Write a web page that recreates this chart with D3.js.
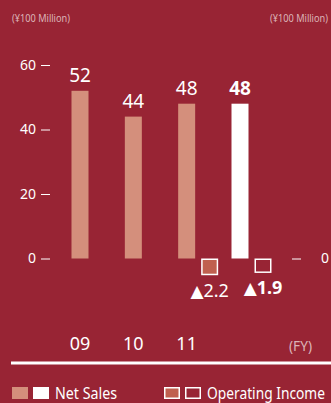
<!DOCTYPE html>
<html>
<head>
<meta charset="utf-8">
<script src="https://cdn.jsdelivr.net/npm/d3@7"></script>
<style>
body { margin: 0; background: #982434; }
svg { display: block; font-family: "Noto Sans", sans-serif; }
</style>
</head>
<body>
<div class="chart"></div>
<script>
var years = ["09", "10", "11", "12"];
var yearLabels = ["09", "10", "11", ""];
var netSales = [52, 44, 48, 48];
var opIncome = [null, null, -2.2, -1.9];
var salesTicks = [0, 20, 40, 60];
var opTicks = [0];

var width = 331,
    height = 403,
    barW = 17,
    latest = years.length - 1;

var bg = "#982434",
    salesColor = "#d48f7c",
    opColor = "#c0604f",
    softText = "#dcb4b8";

var svg = d3.select(".chart").append("svg")
    .attr("width", width)
    .attr("height", height);

var x = d3.scalePoint()
    .domain(years)
    .range([80, 240]);

var y = d3.scaleLinear()
    .domain([0, 60])
    .range([258.5, 65]);

// operating income sits on the right axis, different scale
var yOp = d3.scaleLinear()
    .domain([0, -2.5])
    .range([258.5, 277.5]);

// condensed looking text: squeeze to the measured width
function narrow(sel, size, len) {
    sel.style("font-size", size + "px")
        .attr("textLength", len)
        .attr("lengthAdjust", "spacingAndGlyphs");
}

// units
svg.append("text")
    .attr("x", 12).attr("y", 22)
    .style("fill", softText)
    .text("(¥100 Million)")
    .call(narrow, 11, 58);

svg.append("text")
    .attr("x", 270).attr("y", 22)
    .style("fill", softText)
    .text("(¥100 Million)")
    .call(narrow, 11, 58);

// axes
var left = svg.append("g")
    .attr("transform", "translate(50,0)")
    .call(d3.axisLeft(y).tickValues(salesTicks).tickSize(9).tickPadding(5));

var right = svg.append("g")
    .attr("transform", "translate(292,0)")
    .call(d3.axisRight(yOp).tickValues(opTicks).tickFormat(d3.format("d"))
        .tickSize(9).tickPadding(20));

[left, right].forEach(function(g) {
    g.select(".domain").remove();
    g.selectAll(".tick line").attr("stroke", "#fff");
    g.selectAll(".tick text")
        .attr("fill", "#fff")
        .style("font-family", "'Noto Sans', sans-serif")
        .style("font-size", "14px");
});

// net sales bars
svg.selectAll(".sales")
    .data(netSales)
    .enter().append("rect")
    .attr("class", "sales")
    .attr("x", function(d, i) { return x(years[i]) - barW / 2; })
    .attr("y", function(d) { return y(d); })
    .attr("width", barW)
    .attr("height", function(d) { return y(0) - y(d); })
    .attr("fill", function(d, i) { return i == latest ? "#fff" : salesColor; });

svg.selectAll(".salesLabel")
    .data(netSales)
    .enter().append("text")
    .attr("class", "salesLabel")
    .attr("x", function(d, i) { return x(years[i]); })
    .attr("y", function(d) { return y(d) - 9; })
    .attr("text-anchor", "middle")
    .style("font-size", "19px")
    .style("font-weight", function(d, i) { return i == latest ? "bold" : "normal"; })
    .style("fill", "#fff")
    .text(function(d) { return d; });

// operating income (negative) boxes
var ops = opIncome.map(function(v, i) { return {v: v, i: i}; })
    .filter(function(d) { return d.v != null; });

svg.selectAll(".op")
    .data(ops)
    .enter().append("rect")
    .attr("class", "op")
    .attr("x", function(d) { return x(years[d.i]) + 23 - barW / 2 + 0.75; })
    .attr("y", function(d) { return yOp(0) + 0.75; })
    .attr("width", barW - 1.5)
    .attr("height", function(d) { return yOp(d.v) - yOp(0) - 1.5; })
    .attr("fill", function(d) { return d.i == latest ? bg : opColor; })
    .attr("stroke", "#fff")
    .attr("stroke-width", 1.5);

var opLabel = svg.selectAll(".opLabel")
    .data(ops)
    .enter().append("text")
    .attr("class", "opLabel")
    .attr("x", function(d) { return x(years[d.i]) + 23; })
    .attr("y", function(d) { return yOp(d.v) + 21.5; })
    .attr("text-anchor", "middle")
    .style("font-size", "18px")
    .style("font-weight", function(d) { return d.i == latest ? "bold" : "normal"; })
    .style("fill", "#fff");

// ▲ marks a loss
opLabel.append("tspan")
    .style("font-family", "'DejaVu Sans', sans-serif")
    .style("font-size", "17px")
    .text(function(d) { return d.v < 0 ? "▲" : ""; });
opLabel.append("tspan")
    .text(function(d) { return Math.abs(d.v); });

// year labels
svg.selectAll(".year")
    .data(yearLabels)
    .enter().append("text")
    .attr("class", "year")
    .attr("x", function(d, i) { return x(years[i]); })
    .attr("y", 350)
    .attr("text-anchor", "middle")
    .style("font-size", "18px")
    .style("fill", "#fff")
    .text(function(d) { return d; });

svg.append("text")
    .attr("x", 289).attr("y", 351)
    .style("fill", softText)
    .text("(FY)")
    .call(narrow, 14, 23);

svg.append("rect")
    .attr("x", 11).attr("y", 361.5)
    .attr("width", width - 11).attr("height", 3)
    .attr("fill", "#fff");

// legend
var legend = svg.append("g").attr("transform", "translate(0,387)");

legend.append("rect").attr("x", 12).attr("width", 16).attr("height", 12).attr("fill", salesColor);
legend.append("rect").attr("x", 33).attr("width", 16).attr("height", 12).attr("fill", "#fff");
legend.append("text").attr("x", 55).attr("y", 12)
    .style("fill", "#fff")
    .text("Net Sales")
    .call(narrow, 16, 62);

legend.append("rect").attr("x", 164.75).attr("y", 0.75).attr("width", 14.5).attr("height", 10.5)
    .attr("fill", opColor).attr("stroke", "#fff").attr("stroke-width", 1.5);
legend.append("rect").attr("x", 185.75).attr("y", 0.75).attr("width", 14.5).attr("height", 10.5)
    .attr("fill", "none").attr("stroke", "#fff").attr("stroke-width", 1.5);
legend.append("text").attr("x", 207).attr("y", 12)
    .style("fill", "#fff")
    .text("Operating Income")
    .call(narrow, 16, 118);
</script>
</body>
</html>
